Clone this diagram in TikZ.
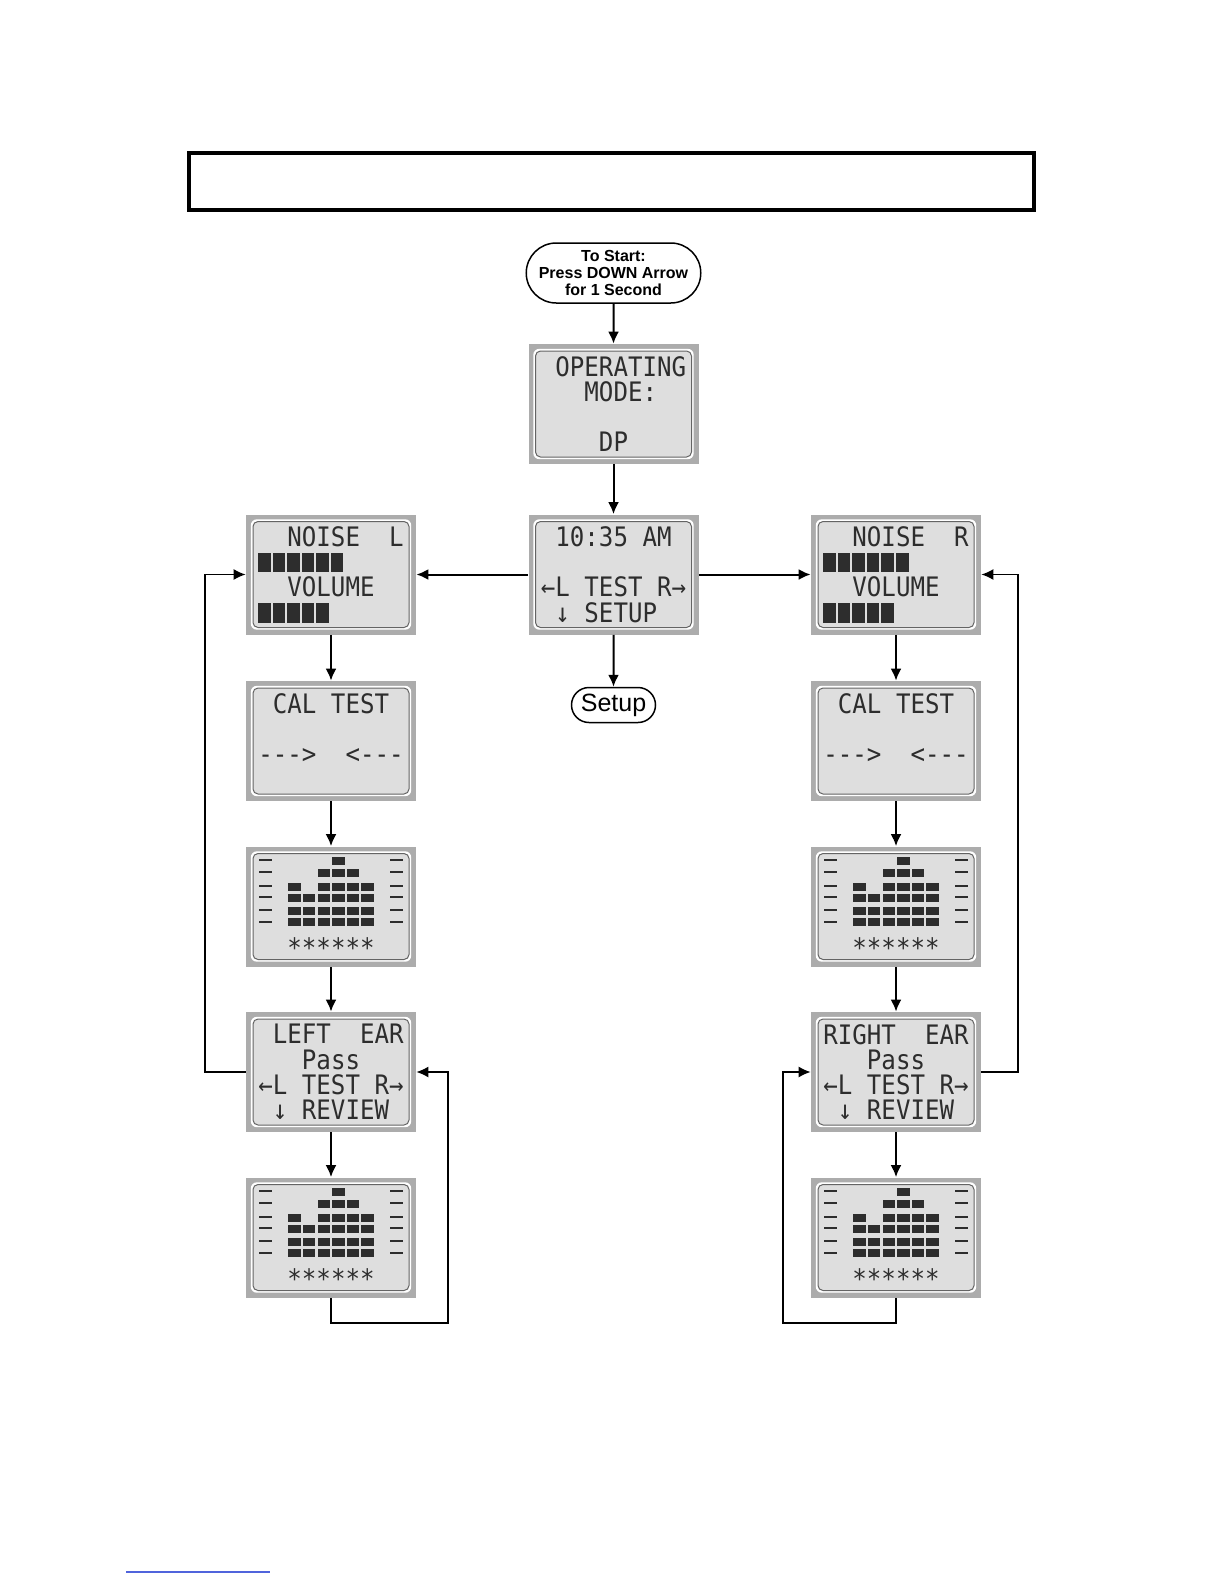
\documentclass[tikz,border=0pt]{standalone}
\usepackage{tikz}
\usetikzlibrary{shapes.misc,arrows.meta,positioning,calc}
\usepackage{xcolor}
\usepackage{fontspec}
\setmainfont{Liberation Sans}
\newfontfamily\lcdfont[FakeStretch=0.9]{DejaVu Sans Mono}
\definecolor{LCDFrame}{RGB}{172,172,172}
\definecolor{LCDFace}{RGB}{222,222,222}
\definecolor{LCDEdge}{RGB}{100,100,100}
\definecolor{LCDText}{RGB}{45,45,45}
\definecolor{LinkBlue}{RGB}{80,100,220}
\newcommand{\blk}{\setbox0\hbox{0}\hbox to\wd0{\color{LCDText}\rule[-0.4pt]{0.86\wd0}{9.8pt}\hss}}
\newcommand{\lcdbars}[1]{%
\begin{scope}[shift={(#1.center)}]
\foreach \ty in {-46.5,-34.5,-20.5,-9.5,3.5,15.5}{
  \draw[lcdtick] (-72,\ty) -- (-59,\ty);
  \draw[lcdtick] (59,\ty) -- (72,\ty);
}
\fill[LCDText] (7.3-6.2,-49.5) rectangle ++(12.4,8);
\foreach \c in {2,3,4} \fill[LCDText] (-36.5+14.6*\c-6.2,-38) rectangle ++(12.4,8);
\foreach \c in {0,2,3,4,5} \fill[LCDText] (-36.5+14.6*\c-6.2,-24) rectangle ++(12.4,8);
\foreach \r in {-8.5,4.5,15.5}
  \foreach \c in {0,...,5} \fill[LCDText] (-36.5+14.6*\c-6.2,\r-4) rectangle ++(12.4,8);
\node[lcdstar] (#1-stars) at (0,41) {******};
\end{scope}}

\begin{document}
\begin{tikzpicture}[x=0.5pt,y=-0.5pt,
  lcd/.style={rectangle,fill=LCDFrame,minimum width=85pt,minimum height=60pt,inner sep=0pt,
    font=\lcdfont\fontsize{13.4}{12.6}\selectfont,text=LCDText,align=left,
    path picture={
      \fill[white,rounded corners=3pt] ([shift={(2.4pt,2.4pt)}]path picture bounding box.south west)
        rectangle ([shift={(-2.4pt,-2.4pt)}]path picture bounding box.north east);
      \filldraw[fill=LCDFace,draw=LCDEdge,line width=0.5pt,rounded corners=2.5pt]
        ([shift={(3.5pt,3.5pt)}]path picture bounding box.south west)
        rectangle ([shift={(-3.5pt,-3.5pt)}]path picture bounding box.north east);
    }},
  startbox/.style={rounded rectangle,draw,line width=0.75pt,minimum width=87pt,minimum height=30pt,
    inner sep=1pt,align=center,font=\bfseries\fontsize{8}{8.6}\selectfont},
  setupbox/.style={rounded rectangle,draw,line width=0.75pt,minimum width=44pt,minimum height=17.5pt,
    inner sep=1pt,font=\fontsize{12.5}{14}\selectfont},
  flow/.style={-{Latex[length=6pt,width=5.5pt]},line width=1pt},
  back/.style={-{Latex[length=6pt,width=5.5pt]},line width=0.7pt},
  lcdtick/.style={LCDText,line width=1pt},
  lcdstar/.style={font=\lcdfont\fontsize{13.4}{12.6}\selectfont,text=LCDText,inner sep=0pt},
]
\useasboundingbox (0,0) rectangle (1224,1584);
\node[draw,line width=2pt,minimum width=422.5pt,minimum height=28.5pt,inner sep=0pt] (title) at (611.5,181.5) {};
\node[startbox] (start) at (613.5,273) {To Start:\\Press DOWN Arrow\\for 1 Second};
\node[lcd] (mode) at (613.5,404) {~OPERATING\\~~~MODE:\\~\\~~~~DP};
\node[lcd] (clock) at (613.5,574.5) {~10:35~AM\\~\\←L~TEST~R→\\~↓~SETUP};
\node[setupbox] (setup) at (613.5,705) {Setup};

\node[lcd] (noiseL) at (331,574.5) {~~NOISE~~L\\\blk\blk\blk\blk\blk\blk\\~~VOLUME\\\blk\blk\blk\blk\blk};
\node[lcd] (calL) at (331,741) {~CAL~TEST\\~\\--->~~<---\\~};
\node[lcd] (grL) at (331,906.5) {};
\node[lcd] (earL) at (331,1072) {~LEFT~~EAR\\~~~Pass\\←L~TEST~R→\\~↓~REVIEW};
\node[lcd] (revL) at (331,1237.5) {};

\node[lcd] (noiseR) at (896,574.5) {~~NOISE~~R\\\blk\blk\blk\blk\blk\blk\\~~VOLUME\\\blk\blk\blk\blk\blk};
\node[lcd] (calR) at (896,741) {~CAL~TEST\\~\\--->~~<---\\~};
\node[lcd] (grR) at (896,906.5) {};
\node[lcd] (earR) at (896,1072) {RIGHT~~EAR\\~~~Pass\\←L~TEST~R→\\~↓~REVIEW};
\node[lcd] (revR) at (896,1237.5) {};

\lcdbars{grL}
\lcdbars{revL}
\lcdbars{grR}
\lcdbars{revR}

\coordinate (lloop) at (205,0);
\coordinate (rloop) at (1018,0);
\coordinate (lret) at (448,1323);
\coordinate (rret) at (783,1323);

\draw[flow] (start) -- (mode);
\draw[flow] (mode) -- (clock);
\draw[flow] (clock) -- (setup);
\draw[flow] (clock) -- (noiseL);
\draw[flow] (clock) -- (noiseR);
\draw[flow] (noiseL) -- (calL);
\draw[flow] (calL) -- (grL);
\draw[flow] (grL) -- (earL);
\draw[flow] (earL) -- (revL);
\draw[flow] (noiseR) -- (calR);
\draw[flow] (calR) -- (grR);
\draw[flow] (grR) -- (earR);
\draw[flow] (earR) -- (revR);
\draw[back] (earL.west) -- (earL.west -| lloop) -- (noiseL.west -| lloop) -- (noiseL.west);
\draw[back] (earR.east) -- (earR.east -| rloop) -- (noiseR.east -| rloop) -- (noiseR.east);
\draw[back] (revL.south) |- (lret) |- (earL.east);
\draw[back] (revR.south) |- (rret) |- (earR.west);

\draw[LinkBlue,line width=0.6pt] (126,1572) -- (270,1572);
\end{tikzpicture}
\end{document}
